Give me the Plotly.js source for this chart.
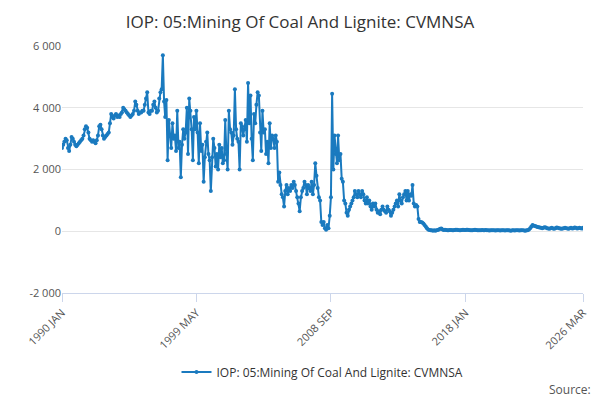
<!DOCTYPE html>
<html><head><meta charset="utf-8">
<script src="https://cdn.plot.ly/plotly-3.0.1.min.js"></script>
<style>body{margin:0}#c{width:600px;height:400px}</style></head>
<body><div id="c"></div>
<script>
const startYear = 1990;
const seriesName = "IOP: 05:Mining Of Coal And Lignite: CVMNSA";
const values = [
2700,2800,2900,3000,2950,2700,2600,2800,3050,3000,2900,2800,
2750,2800,2850,2900,2950,3000,3100,3300,3400,3350,3200,3000,
2950,2900,2950,2900,2850,2950,3100,3400,3450,3300,3100,3000,
3050,3100,3150,3200,3500,3800,3700,3650,3750,3800,3700,3750,
3700,3800,3850,4000,3950,3900,3850,3800,3750,3700,3750,3800,
3900,4200,4100,3900,3800,3850,3850,3900,3900,4100,4300,4500,
3850,3800,3900,3900,4100,4200,4000,3850,3900,4300,4500,4600,
5700,4200,3700,4250,2300,3600,3100,2700,3500,3000,3100,2600,
3900,2700,2900,1750,2800,3300,3000,3200,4000,2500,4300,3900,
3300,2300,3700,3300,3900,3200,2200,3500,2600,2800,1600,2400,
2900,3200,2500,2300,1300,2400,3000,2700,2100,2500,2000,2800,
2400,2700,2200,2300,3600,2500,2000,3900,3300,3200,2800,3100,
4600,3300,3000,2900,2000,3500,3400,3100,3300,3600,2900,4800,
3500,4400,3000,2300,3800,3500,4100,4500,4400,3200,2600,3900,
3200,3300,2500,2900,2200,3500,2700,3100,3000,2700,3100,2900,
1600,1900,1500,1200,1100,800,1300,1500,1200,1400,1300,1500,
1400,1600,1500,1300,1100,900,650,1100,1300,1400,1600,1500,
1200,1500,1400,1300,1600,1200,1500,2200,1800,1400,1100,1000,
300,200,300,100,50,200,100,500,1100,4450,2000,3100,
2500,2200,3100,2300,2500,1700,1600,1000,900,600,500,700,
800,900,1000,1100,1300,1200,1100,1300,1200,1100,1300,1200,
1000,900,1100,900,1000,800,700,900,800,900,700,600,
650,550,700,800,700,650,600,800,700,650,500,600,
700,800,900,1000,800,1200,1000,900,1100,1200,1300,1000,
1300,1000,1200,1150,1500,900,800,850,800,400,300,300,
280,250,200,150,100,60,40,30,30,20,30,20,
30,40,60,80,90,60,40,50,40,30,35,40,
40,35,30,40,45,50,40,35,30,40,45,40,
40,45,50,40,35,30,35,40,45,40,35,30,
30,35,40,35,30,40,35,30,25,30,35,30,
30,25,30,35,30,25,30,35,30,25,30,30,
30,25,20,30,35,25,30,35,30,25,30,30,
30,25,20,30,35,60,100,150,200,180,170,150,
140,130,120,110,100,110,130,120,100,90,80,100,
110,90,80,100,120,110,100,90,80,90,100,110,
100,90,80,100,110,90,100,120,110,90,100,110,
100,90,110
];
const tickVals = ["1990-01-01","1999-05-01","2008-09-01","2018-01-01","2026-03-01"];
const tickText = ["1990 JAN","1999 MAY","2008 SEP","2018 JAN","2026 MAR"];
const dates = values.map((v,i)=>{const y=startYear+Math.floor(i/12), m=i%12+1;return y+"-"+String(m).padStart(2,"0")+"-01";});
Plotly.newPlot("c",[{x:dates,y:values,type:"scatter",mode:"lines+markers",name:seriesName,
 line:{color:"#1a7abf",width:2},marker:{color:"#1a7abf",size:4}}],{
 width:600,height:400,margin:{l:62,r:17,t:46,b:107},
 font:{family:"Open Sans, DejaVu Sans, sans-serif",color:"#333"},
 title:{text:"IOP: 05:Mining Of Coal And Lignite: CVMNSA",font:{size:17,color:"#333"},x:0.5,y:0.96},
 xaxis:{type:"date",range:["1990-01-01","2026-03-01"],tickvals:tickVals,ticktext:tickText,tickangle:-45,automargin:false,
  showgrid:false,showline:true,linecolor:"#ccd6eb",ticks:"outside",ticklen:8,tickcolor:"#ccd6eb",tickfont:{size:11,color:"#555"}},
 yaxis:{range:[-2000,6000],automargin:false,tickvals:[-2000,0,2000,4000,6000],ticktext:["-2 000","0","2 000","4 000","6 000"],
  gridcolor:"#e6e6e6",zeroline:false,tickfont:{size:11,color:"#555"}},
 showlegend:true,legend:{orientation:"h",x:0.5,xanchor:"center",y:-0.32,yanchor:"middle",font:{size:12,color:"#333"}},
 annotations:[{text:"Source:",xref:"paper",yref:"paper",x:1.02,y:-0.39,yanchor:"middle",xanchor:"right",showarrow:false,font:{size:12,color:"#555"}}]
},{displayModeBar:false});
</script></body></html>
